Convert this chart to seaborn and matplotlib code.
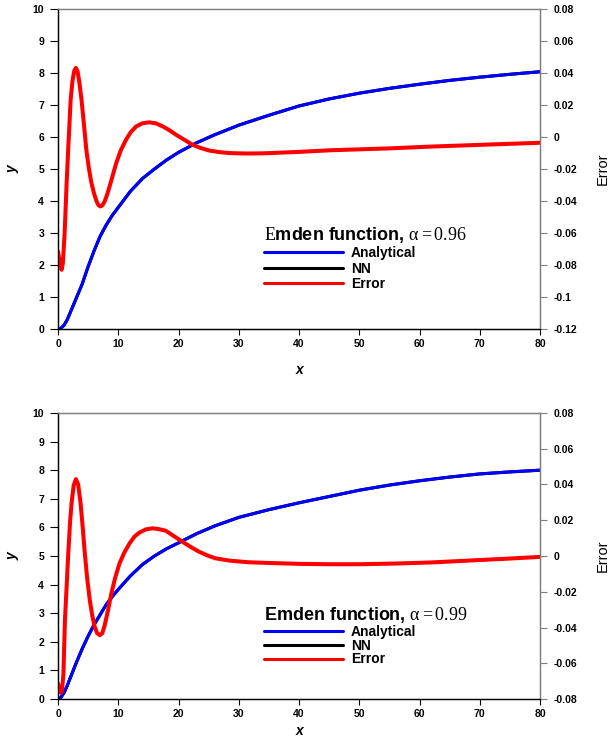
import matplotlib
matplotlib.use("Agg")
import matplotlib.pyplot as plt
import seaborn as sns

sns.set_style("ticks")
plt.rcParams["font.family"] = ["Liberation Sans", "DejaVu Sans"]
plt.rcParams["mathtext.fontset"] = "custom"
plt.rcParams["mathtext.rm"] = "Liberation Serif"
plt.rcParams["mathtext.it"] = "Liberation Serif:italic"
for k in ["text.color", "axes.labelcolor", "xtick.color", "ytick.color"]:
    plt.rcParams[k] = "black"

# ---------------- data ----------------
# top panel, alpha = 0.96
x_ana_top = [0, 0.5, 1, 1.5, 2, 3, 4, 5, 6, 7, 8, 9, 10, 12, 14, 16, 18, 20, 23, 26,
             30, 35, 40, 45, 50, 55, 60, 65, 70, 75, 80]
y_ana_top = [0, 0.03, 0.12, 0.28, 0.5, 0.95, 1.4, 1.95, 2.45, 2.9, 3.25, 3.55, 3.8,
             4.3, 4.7, 5.0, 5.28, 5.52, 5.82, 6.07, 6.37, 6.68, 6.97, 7.19, 7.37,
             7.52, 7.65, 7.77, 7.87, 7.96, 8.04]
y_nn_top = y_ana_top  # NN lies under the analytical curve

x_err_top = [0, 0.2, 0.4, 0.6, 0.8, 1.1, 1.43, 1.75, 2.1, 2.4, 2.7, 2.97, 3.25, 3.55,
             3.9, 4.3, 4.7, 5.1, 5.55, 6.0, 6.4, 6.7, 7.03, 7.35, 7.75, 8.15, 8.57,
             9.1, 9.67, 10.4, 11.3, 12.1, 12.97, 14.0, 15.16, 16.3, 17.4, 18.5, 19.6,
             21.0, 22.3, 23.7, 25.05, 26.7, 28.35, 30.0, 31.6, 34.1, 40, 45.1, 50, 55,
             61.7, 70, 80]
err_top = [-0.0715, -0.076, -0.081, -0.083, -0.079, -0.060, -0.029, -0.003, 0.0234,
           0.035, 0.0415, 0.0432, 0.041, 0.034, 0.0234, 0.008, -0.008, -0.019,
           -0.0288, -0.0355, -0.0402, -0.0425, -0.0434, -0.0427, -0.0402, -0.036,
           -0.0308, -0.0237, -0.0162, -0.0085, -0.0016, 0.0032, 0.0066, 0.0086,
           0.0092, 0.0085, 0.0066, 0.0042, 0.0014, -0.0018, -0.0048, -0.0069,
           -0.0084, -0.0094, -0.0100, -0.0102, -0.0103, -0.0102, -0.0093, -0.0083,
           -0.0077, -0.0071, -0.0060, -0.0049, -0.0036]

# bottom panel, alpha = 0.99
x_ana_bot = [0, 0.5, 1, 1.5, 2, 3, 4, 5, 6, 7, 8, 9, 10, 12, 14, 16, 18, 20, 23, 26,
             30, 35, 40, 45, 50, 55, 60, 65, 70, 75, 80]
y_ana_bot = [0, 0.06, 0.22, 0.45, 0.72, 1.25, 1.75, 2.2, 2.6, 2.95, 3.3, 3.58, 3.83,
             4.3, 4.7, 5.0, 5.25, 5.46, 5.78, 6.05, 6.35, 6.62, 6.86, 7.08, 7.3,
             7.48, 7.63, 7.76, 7.87, 7.94, 8.0]
y_nn_bot = y_ana_bot

x_err_bot = [0, 0.2, 0.45, 0.65, 0.9, 1.15, 1.45, 1.7, 2.0, 2.25, 2.6, 2.97, 3.35,
             3.74, 4.1, 4.45, 4.85, 5.27, 5.7, 6.1, 6.5, 6.92, 7.35, 7.75, 8.3, 8.85,
             9.5, 10.2, 11.0, 11.87, 12.7, 13.5, 14.6, 15.7, 16.8, 17.9, 19.2, 20.65,
             22.0, 23.4, 24.8, 26.15, 28.5, 31.6, 34.1, 40, 45.1, 50, 56.2, 62, 67.3,
             74, 80]
err_bot = [-0.0714, -0.074, -0.0765, -0.0755, -0.066, -0.0358, -0.016, 0.0014, 0.019,
           0.0296, 0.0395, 0.043, 0.040, 0.0296, 0.016, 0.0014, -0.0128, -0.0246,
           -0.0336, -0.0397, -0.0432, -0.0443, -0.0432, -0.0387, -0.0304, -0.021,
           -0.012, -0.0042, 0.0019, 0.007, 0.0109, 0.0131, 0.0149, 0.0155, 0.015,
           0.0141, 0.0112, 0.008, 0.0051, 0.0024, 0.0003, -0.0013, -0.0026, -0.0035,
           -0.0038, -0.0044, -0.0046, -0.0046, -0.0042, -0.0036, -0.0027, -0.0016,
           -0.0005]

x_ticks = [0, 10, 20, 30, 40, 50, 60, 70, 80]
y_ticks = list(range(0, 11))
err_ticks_top = [-0.12, -0.1, -0.08, -0.06, -0.04, -0.02, 0, 0.02, 0.04, 0.06, 0.08]
err_ticks_bot = [-0.08, -0.06, -0.04, -0.02, 0, 0.02, 0.04, 0.06, 0.08]

panels = [
    dict(rect=[0.0951, 0.5554, 0.7902, 0.4324], xa=x_ana_top, ya=y_ana_top,
         yn=y_nn_top, xe=x_err_top, ye=err_top, elim=(-0.12, 0.08),
         eticks=err_ticks_top, alpha="0.96", serif_e=True, leg_y=0.347,
         lspace=0.1, xlab=-0.105),
    dict(rect=[0.0951, 0.0554, 0.7902, 0.3865], xa=x_ana_bot, ya=y_ana_bot,
         yn=y_nn_bot, xe=x_err_bot, ye=err_bot, elim=(-0.08, 0.08),
         eticks=err_ticks_bot, alpha="0.99", serif_e=False, leg_y=0.352,
         lspace=-0.02, xlab=-0.088),
]

GRAY = "#7f7f7f"
fig = plt.figure(figsize=(6.1, 7.4), dpi=100)

for p in panels:
    ax = fig.add_axes(p["rect"])
    ax2 = ax.twinx()

    sns.lineplot(x=p["xa"], y=p["yn"], ax=ax, color="black", linewidth=2.2,
                 sort=False, estimator=None, legend=False)
    sns.lineplot(x=p["xa"], y=p["ya"], ax=ax, color="#0000ff", linewidth=2.2,
                 sort=False, estimator=None, legend=False)
    sns.lineplot(x=p["xe"], y=p["ye"], ax=ax2, color="#ff0000", linewidth=2.9,
                 sort=False, estimator=None, legend=False)

    ax.set_xlim(0, 80)
    ax.set_ylim(0, 10)
    ax.set_xticks(x_ticks)
    ax.set_yticks(y_ticks)
    ax2.set_ylim(*p["elim"])
    ax2.set_yticks(p["eticks"])
    ax2.set_yticklabels([("%g" % v) for v in p["eticks"]])

    for lab in ax.get_xticklabels() + ax.get_yticklabels() + ax2.get_yticklabels():
        lab.set_fontweight("bold")
        lab.set_fontsize(7.5)
    ax.tick_params(axis="y", direction="out", length=6, width=0.8, pad=4)
    ax.tick_params(axis="x", direction="out", length=4, width=0.8, pad=3)
    ax2.tick_params(axis="y", direction="out", length=5, width=0.8, pad=5,
                    color=GRAY, labelcolor="black")

    for a in (ax, ax2):
        a.spines["left"].set_color("black")
        a.spines["bottom"].set_color("black")
        a.spines["top"].set_color(GRAY)
        a.spines["right"].set_color(GRAY)
        for s in a.spines.values():
            s.set_linewidth(0.9)

    ax.set_xlabel("x", fontsize=10, fontweight="bold", fontstyle="italic")
    ax.set_ylabel("y", fontsize=10, fontweight="bold", fontstyle="italic")
    ax2.set_ylabel("Error", fontsize=10.5)
    ax.xaxis.set_label_coords(0.5, p["xlab"])
    ax.yaxis.set_label_coords(-0.08, 0.5)
    ax2.yaxis.set_label_coords(1.116, 0.5)

    # legend
    h = [plt.Line2D([], [], color="#0000ff", lw=2.2),
         plt.Line2D([], [], color="black", lw=2.2),
         plt.Line2D([], [], color="#ff0000", lw=2.2)]
    if p["serif_e"]:
        title = r"$\mathrm{E}$mden function, $\mathrm{α{=}%s}$" % p["alpha"]
    else:
        title = r"Emden function, $\mathrm{α{=}%s}$" % p["alpha"]
    leg = ax2.legend(h, ["Analytical", "NN", "Error"], loc="upper left",
                     bbox_to_anchor=(0.412, p["leg_y"]), frameon=False,
                     borderpad=0, handlelength=5.7, handletextpad=0.6,
                     labelspacing=p["lspace"], alignment="left",
                     title=title, title_fontproperties={"size": 13, "weight": "bold"},
                     prop={"size": 10, "weight": "bold"})
    for t in leg.get_texts():
        t.set_color("black")
    leg.get_title().set_color("black")

fig.savefig("out.png", dpi=100)
